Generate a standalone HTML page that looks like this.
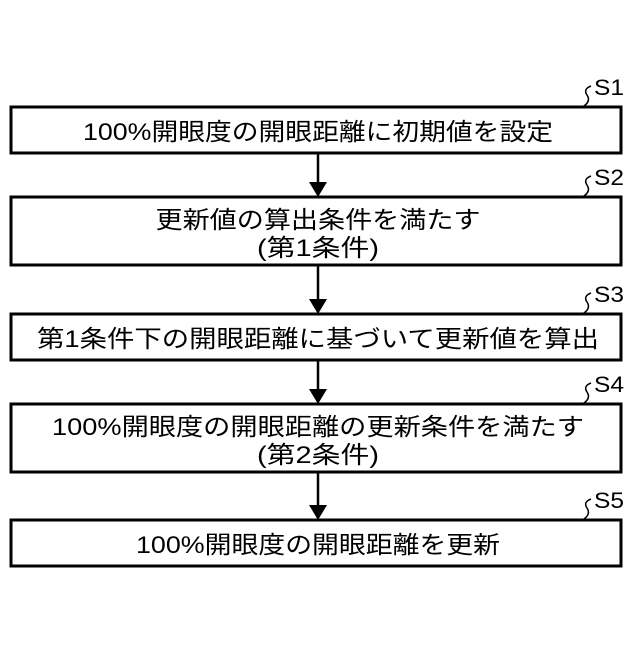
<!DOCTYPE html>
<html><head><meta charset="utf-8"><style>
body{margin:0;background:#fff;}
svg text{font-family:"Liberation Sans","Noto Sans CJK JP",sans-serif;fill:#000;}
</style></head><body>
<svg width="640" height="640" viewBox="0 0 640 640" xmlns="http://www.w3.org/2000/svg">
<g fill="none" stroke="#000" stroke-width="3">
<rect x="11" y="107" width="610" height="46"/>
<rect x="11" y="197" width="610" height="68"/>
<rect x="11" y="314" width="610" height="46"/>
<rect x="11" y="404" width="610" height="68"/>
<rect x="11" y="520" width="610" height="46"/>
</g>
<g stroke="#000" stroke-width="2.5">
<line x1="318" y1="153" x2="318" y2="185"/>
<line x1="318" y1="265" x2="318" y2="302"/>
<line x1="318" y1="360" x2="318" y2="392"/>
<line x1="318" y1="472" x2="318" y2="508"/>
</g>
<g fill="#000">
<path d="M309,182 L327,182 L318,197 Z"/>
<path d="M309,299 L327,299 L318,314 Z"/>
<path d="M309,389 L327,389 L318,404 Z"/>
<path d="M309,505 L327,505 L318,520 Z"/>
</g>
<g fill="none" stroke="#000" stroke-width="1.5">
<path d="M591,86 q-8,3 -4,9 q4,6 -3,11"/>
<path d="M591,176 q-8,3 -4,9 q4,6 -3,11"/>
<path d="M591,293 q-8,3 -4,9 q4,6 -3,11"/>
<path d="M591,383 q-8,3 -4,9 q4,6 -3,11"/>
<path d="M591,499 q-8,3 -4,9 q4,6 -3,11"/>
</g>
<g font-size="22">
<text x="594" y="95" textLength="30" lengthAdjust="spacingAndGlyphs">S1</text>
<text x="594" y="185" textLength="30" lengthAdjust="spacingAndGlyphs">S2</text>
<text x="594" y="302" textLength="30" lengthAdjust="spacingAndGlyphs">S3</text>
<text x="594" y="392" textLength="30" lengthAdjust="spacingAndGlyphs">S4</text>
<text x="594" y="508" textLength="30" lengthAdjust="spacingAndGlyphs">S5</text>
</g>
<g font-size="24" text-anchor="middle">
<text x="318" y="140" textLength="470" lengthAdjust="spacingAndGlyphs">100%開眼度の開眼距離に初期値を設定</text>
<text x="318" y="228" textLength="325" lengthAdjust="spacingAndGlyphs">更新値の算出条件を満たす</text>
<text x="318" y="256" textLength="122" lengthAdjust="spacingAndGlyphs">(第1条件)</text>
<text x="318" y="347" textLength="562" lengthAdjust="spacingAndGlyphs">第1条件下の開眼距離に基づいて更新値を算出</text>
<text x="318" y="435" textLength="532" lengthAdjust="spacingAndGlyphs">100%開眼度の開眼距離の更新条件を満たす</text>
<text x="318" y="463" textLength="122" lengthAdjust="spacingAndGlyphs">(第2条件)</text>
<text x="318" y="553" textLength="364" lengthAdjust="spacingAndGlyphs">100%開眼度の開眼距離を更新</text>
</g>
</svg>
</body></html>
